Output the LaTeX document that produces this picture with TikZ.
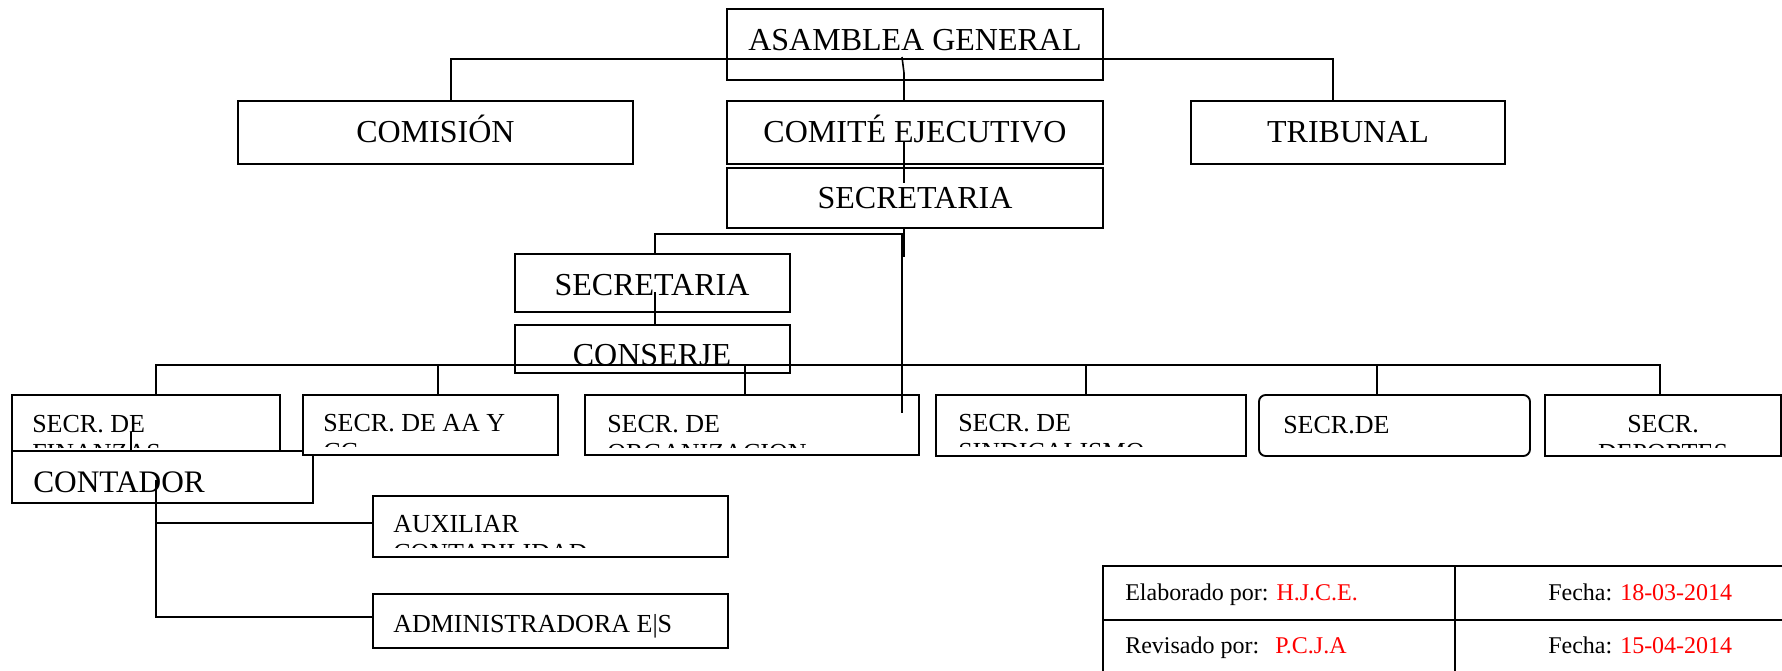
\documentclass[tikz,border=0pt]{standalone}
\usepackage{fontspec}
\setmainfont{Liberation Serif}
\tikzset{
 box/.style={draw, line width=1.4pt, fill=white, inner sep=0pt, outer sep=0pt, anchor=north west},
 conn/.style={line width=1.2pt},
 big/.style={font=\fontsize{24}{28}\selectfont, inner sep=0pt},
 mid/.style={font=\fontsize{19.5}{23}\selectfont, inner sep=0pt},
 small/.style={font=\fontsize{18}{21}\selectfont, inner sep=0pt},
}
\newcommand{\mkbox}[6][]{\node[box,minimum width={(#5-#3)*0.75pt},minimum height={(#6-#4)*0.75pt},#1] (#2) at (#3,#4) {};}
\begin{document}
\begin{tikzpicture}[x=0.75pt,y=-0.75pt]
\useasboundingbox (0,0) rectangle (1782,671);
% top level
\mkbox{asamblea}{727}{9}{1103}{80}
\node[big,anchor=base] (tasamblea) at (915,50) {ASAMBLEA GENERAL};
\mkbox{comision}{238}{101}{633}{164}
\node[big,anchor=base] (tcomision) at (435.5,142) {COMISIÓN};
\mkbox{comite}{727}{101}{1103}{164}
\node[big,anchor=base] (tcomite) at (915,142) {COMITÉ EJECUTIVO};
\mkbox{tribunal}{1191}{101}{1505}{164}
\node[big,anchor=base] (ttribunal) at (1348,142) {TRIBUNAL};
\mkbox{sec1}{727}{168}{1103}{228}
\node[big,anchor=base] (tsec1) at (915,208) {SECRETARIA};
\mkbox{sec2}{515}{254}{790}{312}
\node[big,anchor=base] (tsec2) at (652,295) {SECRETARIA};
\mkbox{conserje}{515}{325}{790}{373}
\node[big,anchor=base] (tconserje) at (652,365) {CONSERJE};
% secretarias
\mkbox{fin}{12}{395}{280}{456}
\node[mid,anchor=base west] (tfin) at (32,432) {SECR. DE};
\begin{scope}\clip (14,397) rectangle (278,447);
\node[mid,anchor=base west] (tfin2) at (32,461) {FINANZAS};
\end{scope}
\mkbox{contador}{12}{451}{313}{503}
\node[font=\fontsize{23.5}{27}\selectfont,inner sep=0pt,anchor=base west] (tcontador) at (33,492) {CONTADOR};
\mkbox{aacc}{303}{395}{558}{455}
\node[mid,anchor=base west] (taacc) at (323,431) {SECR. DE AA Y};
\begin{scope}\clip (305,397) rectangle (556,446);
\node[mid,anchor=base west] (taacc2) at (323,460) {CC};
\end{scope}
\mkbox{org}{585}{395}{919}{455}
\node[mid,anchor=base west] (torg) at (607,432) {SECR. DE};
\begin{scope}\clip (587,397) rectangle (917,447);
\node[mid,anchor=base west] (torg2) at (607,461) {ORGANIZACION};
\end{scope}
\mkbox{sind}{936}{395}{1246}{456}
\node[mid,anchor=base west] (tsind) at (958,431) {SECR. DE};
\begin{scope}\clip (938,397) rectangle (1244,446);
\node[mid,anchor=base west] (tsind2) at (958,460) {SINDICALISMO};
\end{scope}
\mkbox[rounded corners=5pt]{secde}{1259}{395}{1530}{456}
\node[mid,anchor=base west] (tsecde) at (1283,433) {SECR.DE};
\mkbox{dep}{1545}{395}{1781}{456}
\node[mid,anchor=base] (tdep) at (1663,432) {SECR.};
\begin{scope}\clip (1547,397) rectangle (1779,447);
\node[mid,anchor=base] (tdep2) at (1663,461) {DEPORTES};
\end{scope}
% contador children
\mkbox{aux}{373}{496}{728}{557}
\node[mid,anchor=base west] (taux) at (393,532) {AUXILIAR};
\begin{scope}\clip (375,498) rectangle (726,547);
\node[mid,anchor=base west] (taux2) at (393,561) {CONTABILIDAD};
\end{scope}
\mkbox{adm}{373}{594}{728}{648}
\node[mid,anchor=base west] (tadm) at (393,632) {ADMINISTRADORA E|S};
% table
\mkbox[line width=1.5pt]{c11}{1103}{566}{1455}{620}
\mkbox[line width=1.5pt]{c12}{1455}{566}{1800}{620}
\mkbox[line width=1.5pt]{c21}{1103}{620}{1455}{690}
\mkbox[line width=1.5pt]{c22}{1455}{620}{1800}{690}
\node[small,anchor=base west] (tel) at (1125,600) {Elaborado por: \textcolor{red}{H.J.C.E.}};
\node[small,anchor=base west] (tf1) at (1548,600) {Fecha: \textcolor{red}{18-03-2014}};
\node[small,anchor=base west] (trev) at (1125,653) {Revisado por:\hspace{12pt}\textcolor{red}{P.C.J.A}};
\node[small,anchor=base west] (tf2) at (1548,653) {Fecha: \textcolor{red}{15-04-2014}};
% connectors
\coordinate (hA) at (451,59);
\coordinate (hB) at (1333,59);
\draw[conn] (hA |- comision.north) -- (hA) -- (hB) -- (hB |- tribunal.north);
\coordinate (a1) at (902,57);
\coordinate (a2) at (904,73);
\draw[conn] (a1) -- (a2) -- (a2 |- comite.north);
\coordinate (c1) at (904,142);
\coordinate (c2) at (904,183);
\draw[conn] (c1) -- (c2);
\coordinate (c3) at (904,257);
\draw[conn] (c3 |- sec1.south) -- (c3);
\coordinate (h2a) at (655,234);
\coordinate (h2b) at (902,234);
\coordinate (h2e) at (902,413);
\draw[conn] (h2a |- sec2.north) -- (h2a) -- (h2b) -- (h2e);
\coordinate (s2a) at (655,292);
\draw[conn] (s2a) -- (s2a |- conserje.north);
\coordinate (bL) at (156,365);
\coordinate (bR) at (1660,365);
\draw[conn] (bL |- fin.north) -- (bL) -- (bR) -- (bR |- dep.north);
\coordinate (b2) at (438,365);
\coordinate (b3) at (745,365);
\coordinate (b4) at (1086,365);
\coordinate (b5) at (1377,365);
\draw[conn] (b2) -- (b2 |- aacc.north);
\draw[conn] (b3) -- (b3 |- org.north);
\draw[conn] (b4) -- (b4 |- sind.north);
\draw[conn] (b5) -- (b5 |- secde.north);
\coordinate (f1) at (131,432);
\draw[conn] (f1) -- (f1 |- contador.north);
\coordinate (k1) at (156,480);
\coordinate (k2) at (156,523);
\coordinate (k3) at (156,617);
\draw[conn] (k1) -- (k3) -- (k3 -| adm.west);
\draw[conn] (k2) -- (k2 -| aux.west);
\end{tikzpicture}
\end{document}
